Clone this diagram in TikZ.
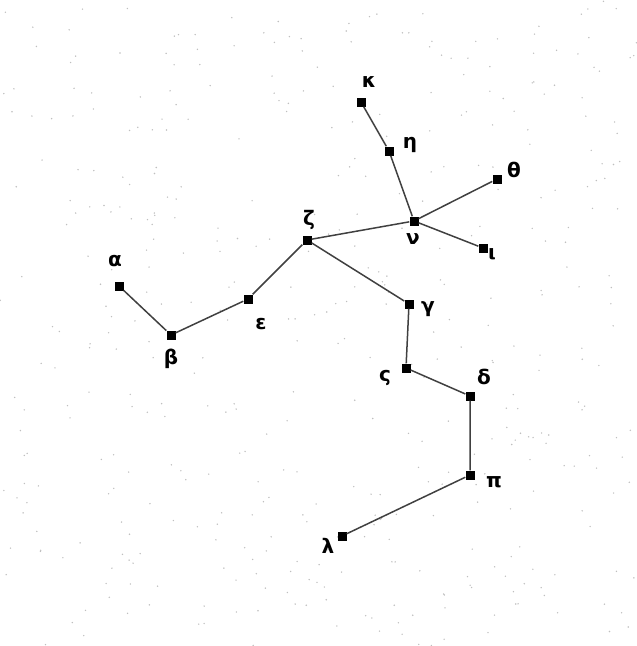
\documentclass[tikz,border=0pt]{standalone}
\usepackage{fontspec}
\setmainfont{DejaVu Sans}
\usepackage{tikz}

\begin{document}
\begin{tikzpicture}[x=1pt,y=-1pt,
    star/.style={fill=black, minimum size=9pt, inner sep=0pt},
    lbl/.style={font=\bfseries\fontsize{20}{20}\selectfont, inner sep=0pt},
    link/.style={draw=black!75, line width=1.5pt}]
        % Frame
        \useasboundingbox (0,0) rectangle (637,646);
        
        % Speckled sky
        \pgfmathsetseed{17}
        \foreach \i in {1,...,450}{
            \pgfmathsetmacro{\px}{rnd*637}
            \pgfmathsetmacro{\py}{rnd*646}
            \fill[black!25] (\px,\py) circle (0.8pt);
        }
        
        % Stars
        \node[star] (kappa) at (361,102) {};
        \node[star] (eta) at (389,151) {};
        \node[star] (theta) at (497,179) {};
        \node[star] (nu) at (414,221) {};
        \node[star] (iota) at (483,248) {};
        \node[star] (zeta) at (307,240) {};
        \node[star] (alpha) at (119,286) {};
        \node[star] (beta) at (171,335) {};
        \node[star] (eps) at (248,299) {};
        \node[star] (gamma) at (409,304) {};
        \node[star] (sigma) at (406,368) {};
        \node[star] (delta) at (470,396) {};
        \node[star] (pi) at (470,475) {};
        \node[star] (lambda) at (342,536) {};
        
        % Names of the stars
        \node[lbl] (kappa-l) at (369,82) {κ};
        \node[lbl] (eta-l) at (410,145) {η};
        \node[lbl] (theta-l) at (514,170) {θ};
        \node[lbl] (nu-l) at (413,239) {ν};
        \node[lbl] (iota-l) at (492,254) {ι};
        \node[lbl] (zeta-l) at (309,220) {ζ};
        \node[lbl] (alpha-l) at (115,261) {α};
        \node[lbl] (beta-l) at (171,359) {β};
        \node[lbl] (eps-l) at (261,324) {ε};
        \node[lbl] (gamma-l) at (428,309) {γ};
        \node[lbl] (sigma-l) at (385,378) {ς};
        \node[lbl] (delta-l) at (484,377) {δ};
        \node[lbl] (pi-l) at (494,482) {π};
        \node[lbl] (lambda-l) at (328,546) {λ};
        
        % Lines between the stars
        \draw[link] (alpha) -- (beta) -- (eps) -- (zeta) -- (nu);
        \draw[link] (nu) -- (eta) -- (kappa);
        \draw[link] (nu) -- (theta);
        \draw[link] (nu) -- (iota);
        \draw[link] (zeta) -- (gamma) -- (sigma) -- (delta) -- (pi) -- (lambda);
    \end{tikzpicture}
\end{document}
